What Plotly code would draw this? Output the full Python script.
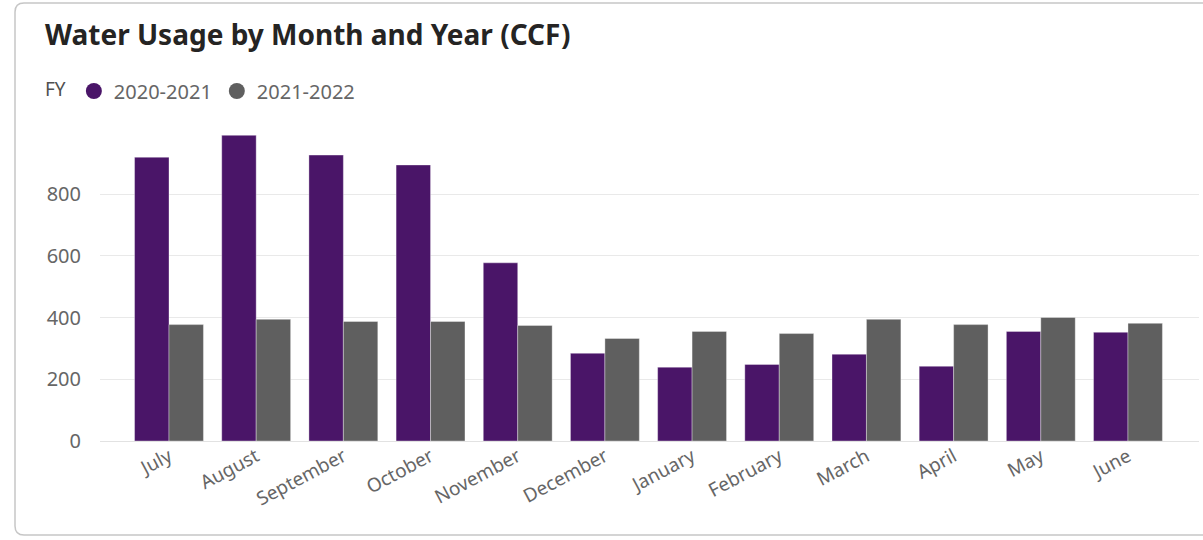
import plotly.graph_objects as go

months = ["July", "August", "September", "October", "November", "December",
          "January", "February", "March", "April", "May", "June"]
fy_2020_2021 = [919, 990, 926, 894, 577, 284, 239, 248, 281, 242, 355, 352]
fy_2021_2022 = [377, 394, 387, 387, 374, 332, 355, 348, 394, 377, 400, 381]
series_names = ["2020-2021", "2021-2022"]
y_ticks = [0, 200, 400, 600, 800]

PURPLE = "#4A1568"
GRAY = "#5F5F5F"
FONT = "Segoe UI, Noto Sans, Open Sans, sans-serif"

W, H = 1203, 540
L, R, T, B = 100, 1199, 120, 441  # plot area in pixels

def px(x):
    return (x - L) / (R - L)

def py(y):
    return (B - y) / (B - T)

fig = go.Figure()
idx = list(range(len(months)))
for name, vals, col in [(series_names[0], fy_2020_2021, PURPLE),
                        (series_names[1], fy_2021_2022, GRAY)]:
    fig.add_trace(go.Bar(
        x=idx, y=vals, name=name, showlegend=False,
        marker=dict(color=col, line=dict(color="rgba(255,255,255,0.35)", width=1)),
    ))
for name, col in [(series_names[0], PURPLE), (series_names[1], GRAY)]:
    fig.add_trace(go.Scatter(
        x=[None], y=[None], mode="markers", name=name,
        marker=dict(color=col, size=18, symbol="circle"),
    ))

# card border (rounded)
x0, x1, y0, y1, r = 15, 1212, 3, 535, 9
path = (f"M {px(x0 + r)},{py(y0)} L {px(x1 - r)},{py(y0)} "
        f"Q {px(x1)},{py(y0)} {px(x1)},{py(y0 + r)} L {px(x1)},{py(y1 - r)} "
        f"Q {px(x1)},{py(y1)} {px(x1 - r)},{py(y1)} L {px(x0 + r)},{py(y1)} "
        f"Q {px(x0)},{py(y1)} {px(x0)},{py(y1 - r)} L {px(x0)},{py(y0 + r)} "
        f"Q {px(x0)},{py(y0)} {px(x0 + r)},{py(y0)} Z")
fig.add_shape(type="path", path=path, xref="paper", yref="paper",
              line=dict(color="#C6C6C6", width=1.5), layer="below")

fig.update_layout(
    width=W, height=H,
    margin=dict(l=L, r=W - R, t=T, b=H - B, pad=0),
    paper_bgcolor="white", plot_bgcolor="white",
    barmode="group", bargap=0.21, bargroupgap=0,
    font=dict(family=FONT, color="#666666", size=20),
    title=dict(text="<b>Water Usage by Month and Year (CCF)</b>",
               xref="container", yref="container",
               x=45 / W, xanchor="left", y=1 - 35 / H, yanchor="middle",
               font=dict(family=FONT, size=28, color="#252423")),
    legend=dict(orientation="h", x=px(43), xanchor="left", y=py(91), yanchor="middle",
                title=dict(text="FY", font=dict(color="#505050", size=19), side="left"),
                font=dict(size=20, color="#666666"), itemwidth=30,
                traceorder="normal", tracegroupgap=0),
    xaxis=dict(range=[(L - 169) / 87.18, (R - 169) / 87.18],
               tickmode="array", tickvals=idx, ticktext=months,
               tickangle=-28, showgrid=False, zeroline=False, showline=False,
               ticks="", tickfont=dict(size=19, color="#666666")),
    yaxis=dict(range=[0, (B - T) / (247 / 800)], tickvals=y_ticks,
               showgrid=True, gridcolor="#E9E9E9", gridwidth=1,
               zeroline=True, zerolinecolor="#E2E2E2", zerolinewidth=1,
               showline=False, ticks="", ticklabelstandoff=18,
               tickfont=dict(size=20, color="#666666")),
)

fig.write_html("out.html")
